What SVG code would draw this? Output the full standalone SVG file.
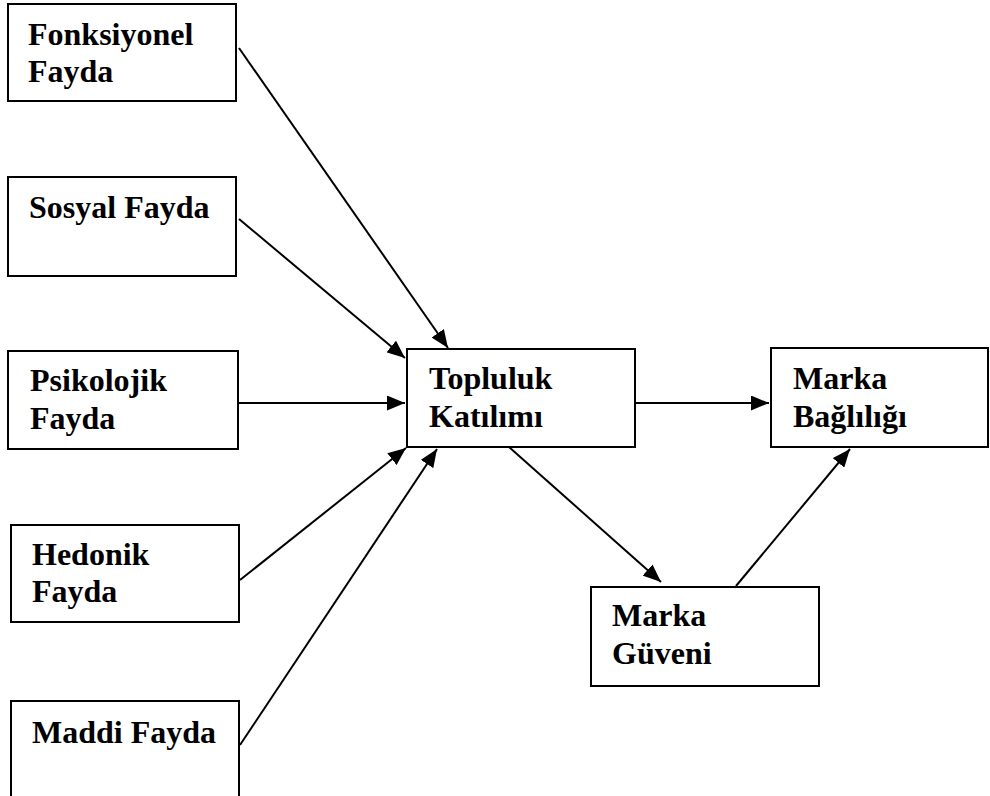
<svg xmlns="http://www.w3.org/2000/svg" width="990" height="796" viewBox="0 0 990 796">
<style>
.box{fill:#fff;stroke:#000;stroke-width:2}
.t{font-family:"Liberation Serif","Times New Roman",serif;font-weight:bold;font-size:32px;fill:#000}
.c{stroke:#000;stroke-width:2;fill:none;marker-end:url(#ah)}
</style>
<defs>
<marker id="ah" markerUnits="userSpaceOnUse" markerWidth="19" markerHeight="15" refX="18" refY="7.5" orient="auto">
<path d="M0,0 L18,7.5 L0,15 z" fill="#000"/>
</marker>
</defs>
<rect width="990" height="796" fill="#fff"/>
<g id="n1"><rect class="box" x="8" y="4" width="228" height="97"/><text class="t" x="28" y="45">Fonksiyonel</text><text class="t" x="28" y="82">Fayda</text></g>
<g id="n2"><rect class="box" x="8" y="177" width="228" height="99"/><text class="t" x="29" y="218">Sosyal Fayda</text></g>
<g id="n3"><rect class="box" x="8" y="351" width="230" height="98"/><text class="t" x="30" y="391">Psikolojik</text><text class="t" x="30" y="429">Fayda</text></g>
<g id="n4"><rect class="box" x="11" y="525" width="228" height="97"/><text class="t" x="32" y="565">Hedonik</text><text class="t" x="32" y="602">Fayda</text></g>
<g id="n5"><rect class="box" x="11" y="701" width="228" height="96"/><text class="t" x="32" y="743">Maddi Fayda</text></g>
<g id="n6"><rect class="box" x="407" y="349" width="228" height="98"/><text class="t" x="429" y="389">Topluluk</text><text class="t" x="429" y="427">Katılımı</text></g>
<g id="n7"><rect class="box" x="771" y="348" width="217" height="99"/><text class="t" x="793" y="389">Marka</text><text class="t" x="793" y="427">Bağlılığı</text></g>
<g id="n8"><rect class="box" x="591" y="587" width="228" height="99"/><text class="t" x="612" y="626">Marka</text><text class="t" x="612" y="664">Güveni</text></g>
<g id="connectors">
<line class="c" x1="239" y1="48" x2="448" y2="348"/>
<line class="c" x1="239" y1="219" x2="405" y2="358"/>
<line class="c" x1="238" y1="403" x2="405" y2="403"/>
<line class="c" x1="240" y1="580" x2="406" y2="448"/>
<line class="c" x1="240" y1="745" x2="437" y2="449"/>
<line class="c" x1="635" y1="403" x2="769" y2="403"/>
<line class="c" x1="509" y1="447" x2="661" y2="582"/>
<line class="c" x1="736" y1="586" x2="850" y2="449"/>
</g>
</svg>
